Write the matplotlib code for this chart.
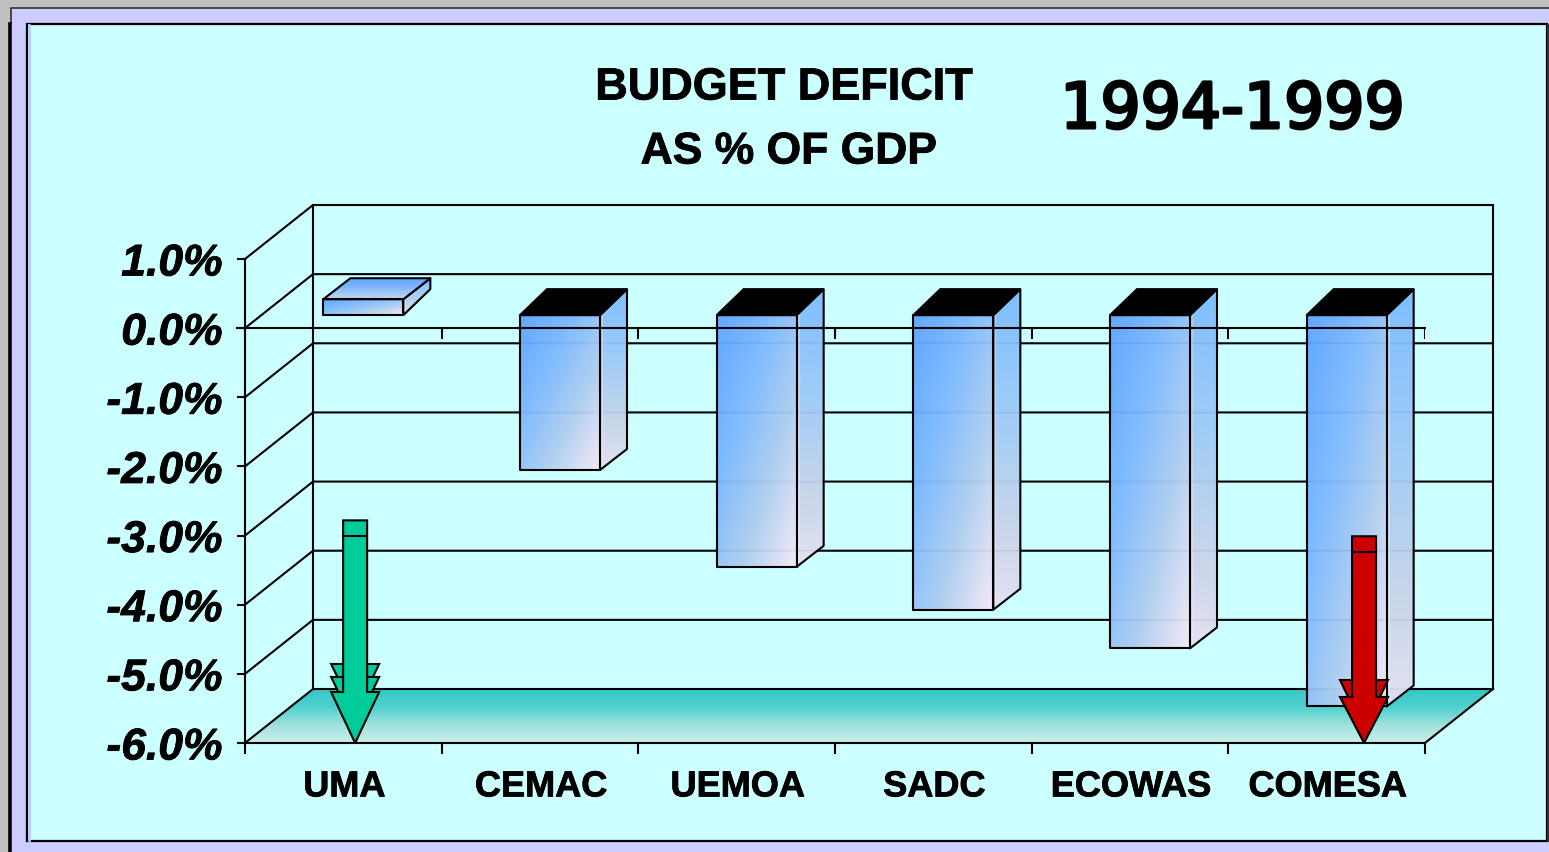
import numpy as np
import matplotlib
matplotlib.use("Agg")
import matplotlib.pyplot as plt
import matplotlib.patheffects as pe
from matplotlib.colors import LinearSegmentedColormap
from matplotlib.patches import Polygon, Rectangle
from matplotlib.transforms import ScaledTranslation

# data
categories = ['UMA', 'CEMAC', 'UEMOA', 'SADC', 'ECOWAS', 'COMESA']
deficit = [0.23, -2.24, -3.64, -4.26, -4.82, -5.66]
value_ticks = [1, 0, -1, -2, -3, -4, -5, -6]
value_labels = ['1.0%', '0.0%', '-1.0%', '-2.0%', '-3.0%', '-4.0%', '-5.0%', '-6.0%']
arrow_cats = [0.06, 5.19]
arrow_tops = [-2.78, -3.01]

W, H = 1549, 852
LW = 1.5
fig = plt.figure(figsize=(W / 100, H / 100), dpi=100, facecolor='#C0C0C0')
heavy = [pe.withStroke(linewidth=0.6, foreground='black')]

# slide frame, pixel coordinates
bg = fig.add_axes([0, 0, 1, 1], zorder=0)
bg.set_xlim(0, W)
bg.set_ylim(H, 0)
bg.axis('off')
bg.add_patch(Rectangle((11, 8), W, 30, fc='#CCCCFF', ec='#303030', lw=1.2))
bg.add_patch(Rectangle((10, 24), W, H, fc='#CCCCFF', ec='none'))
bg.plot([10.5, 10.5], [24, H], color='black', lw=2.6)
bg.add_patch(Rectangle((27, 24), 1520, 817, fc='#CCFFFF', ec='black', lw=1.6))
bg.plot([28.8, 28.8], [25, 840], color='#B4CCFF', lw=2)
bg.plot([1548, 1548], [25, 841], color='#303030', lw=1.5)

# chart axes = front plane of the 3d box
left, right, top, bottom = 245, 1425, 259, 743
ax = fig.add_axes([left / W, 1 - bottom / H, (right - left) / W, (bottom - top) / H],
                  zorder=1, facecolor='none')
n = len(categories)
px_x = (right - left) / n
px_y = (bottom - top) / 7
X0, X1, Y0, Y1 = -0.5, n - 0.5, -6, 1
depth_x = 68 / px_x
depth_y = 54 / px_y

# floor
floor_cmap = LinearSegmentedColormap.from_list('floor', ['#35C8C8', '#4FD0CE', '#A0E2DC', '#C8EEEA'])
floor = Polygon([(X0, Y0), (X1, Y0), (X1 + depth_x, Y0 + depth_y), (X0 + depth_x, Y0 + depth_y)],
                fc='none', ec='none', transform=ax.transData)
ax.add_patch(floor)
im = ax.imshow(np.linspace(0, 1, 64).reshape(-1, 1), cmap=floor_cmap, aspect='auto', zorder=1,
               extent=(X0, X1 + depth_x, Y0, Y0 + depth_y), origin='upper', clip_on=True)
im.set_clip_box(fig.bbox)
im.set_clip_path(floor)

# walls and gridlines
for v in value_ticks:
    ax.plot([X0, X0 + depth_x, X1 + depth_x], [v, v + depth_y, v + depth_y],
            color='black', lw=LW, zorder=2, clip_on=False)
ax.plot([X0 + depth_x] * 2, [Y0 + depth_y, Y1 + depth_y], color='black', lw=LW, zorder=2, clip_on=False)
ax.plot([X1 + depth_x] * 2, [Y0 + depth_y, Y1 + depth_y], color='black', lw=LW, zorder=2, clip_on=False)
ax.plot([X1, X1 + depth_x], [Y0, Y0 + depth_y], color='black', lw=LW, zorder=2, clip_on=False)

# ticks under the zero line
edges = np.arange(n + 1) - 0.5
ax.vlines(edges, -11 / px_y, 0, color='black', lw=LW, zorder=3)

# bars
front_cmap = LinearSegmentedColormap.from_list('front', ['#5FA4FF', '#7CB8FF', '#B0CEF0', '#F6E8F6'])
side_cmap = LinearSegmentedColormap.from_list('side', ['#7CBCFF', '#9CCAF8', '#C8D4EA', '#EFE6F6'])
bar_w = 80 / px_x
bar_dx = 27 / px_x
bar_shift = 20 / px_x
base = 13 / px_y
back_base = 26 / px_y
back_end = 21 / px_y
gy, gx = np.mgrid[0:1:64j, 0:1:64j]


def gradient(poly_pts, cmap, data, z, alpha=0.96):
    pts = np.array(poly_pts)
    patch = Polygon(pts, fc='none', ec='none', transform=ax.transData)
    ax.add_patch(patch)
    g = ax.imshow(data, cmap=cmap, aspect='auto', zorder=z, alpha=alpha, vmin=0, vmax=1,
                  extent=(pts[:, 0].min(), pts[:, 0].max(), pts[:, 1].min(), pts[:, 1].max()))
    g.set_clip_path(patch)
    ax.add_patch(Polygon(pts, fc='none', ec='black', lw=LW, zorder=z + 0.1, joinstyle='round'))


side_fill = np.maximum(gy * 0.9, (gx < 0.1) * (0.45 + 0.55 * gy))
front_fill = (gx * 0.5 + gy * 0.5).clip(0, 1)
for i, val in enumerate(deficit):
    x0 = i + bar_shift - bar_w / 2
    x1 = x0 + bar_w
    y_base = base
    y_end = val + base
    z = 4
    side = [(x1, y_base), (x1 + bar_dx, y_base + back_base), (x1 + bar_dx, y_end + back_end), (x1, y_end)]
    gradient(side, side_cmap, side_fill, z)
    front = [(x0, y_base), (x1, y_base), (x1, y_end), (x0, y_end)]
    gradient(front, front_cmap, front_fill, z + 1)
    if val < 0:
        lid = [(x0, y_base), (x1, y_base), (x1 + bar_dx, y_base + back_base), (x0 + bar_dx, y_base + back_base)]
        ax.add_patch(Polygon(lid, fc='black', ec='black', lw=LW, zorder=z + 2))
    else:
        lid = [(x0, y_end), (x1, y_end), (x1 + bar_dx, y_end + back_end), (x0 + bar_dx, y_end + back_end)]
        gradient(lid, front_cmap, gy * 0.8, z + 1, alpha=1)

# zero line runs over the bars
ax.plot([X0 - 8 / px_x, X1], [0, 0], color='black', lw=LW, zorder=7, clip_on=False)


# the two annotation arrows
def draw_arrow(cat, top_val, color, back_heads, head_len):
    half_stem, half_head = 12 / px_x, 24 / px_x
    tip = Y0
    slope = 50 / px_y
    for h in back_heads:
        shoulder = tip + h / px_y
        ax.add_patch(Polygon([(cat - half_head, shoulder), (cat + half_head, shoulder), (cat, shoulder - slope)],
                             fc=color, ec='black', lw=LW, zorder=8, clip_on=False))
    shoulder = tip + head_len / px_y
    outline = [(cat - half_stem, top_val), (cat + half_stem, top_val), (cat + half_stem, shoulder),
               (cat + half_head, shoulder), (cat, tip), (cat - half_head, shoulder), (cat - half_stem, shoulder)]
    ax.add_patch(Polygon(outline, fc=color, ec='black', lw=LW, zorder=9, clip_on=False, joinstyle='miter'))
    band = top_val - 16 / px_y
    ax.plot([cat - half_stem, cat + half_stem], [band, band], color='black', lw=LW, zorder=10)


draw_arrow(arrow_cats[0], arrow_tops[0], '#00CC99', [79, 66], 51)
draw_arrow(arrow_cats[1], arrow_tops[1], '#CC0000', [63], 46)

# axes
ax.set_xlim(X0, X1)
ax.set_ylim(Y0, Y1)
for s in ['top', 'right']:
    ax.spines[s].set_visible(False)
for s in ['left', 'bottom']:
    ax.spines[s].set_linewidth(LW)
    ax.spines[s].set_zorder(3)
ax.set_yticks(value_ticks)
ax.set_yticklabels(value_labels, fontfamily='Liberation Sans', fontweight='bold', fontstyle='italic',
                   fontsize=32, va='center', path_effects=heavy)
ax.tick_params(axis='y', length=6, width=LW, pad=10)
ax.set_xticks(edges)
ax.set_xticklabels([])
ax.set_xticks(np.arange(n) + 0.005, minor=True)
ax.set_xticklabels(categories, minor=True, fontfamily='Liberation Sans', fontweight='bold', fontsize=26,
                   path_effects=heavy)
ax.tick_params(axis='x', which='major', length=8, width=LW)
ax.tick_params(axis='x', which='minor', length=0, pad=19)
# labels sit a little below their ticks in the original
down = ScaledTranslation(0, -5 / 100, fig.dpi_scale_trans)
for lab in ax.get_yticklabels():
    lab.set_transform(lab.get_transform() + down)

# titles
bg.text(784, 88, 'BUDGET DEFICIT', ha='center', va='center', fontfamily='Liberation Sans',
        fontweight='bold', fontsize=32.4, zorder=5, path_effects=heavy)
bg.text(789, 152, 'AS % OF GDP', ha='center', va='center', fontfamily='Liberation Sans',
        fontweight='bold', fontsize=32, zorder=5, path_effects=heavy)
bg.text(1233, 111, '1994-1999', ha='center', va='center', fontfamily='DejaVu Sans',
        fontsize=45.5, zorder=5, path_effects=[pe.withStroke(linewidth=2.2, foreground='black')])

fig.savefig('out.png', dpi=100, facecolor=fig.get_facecolor())
